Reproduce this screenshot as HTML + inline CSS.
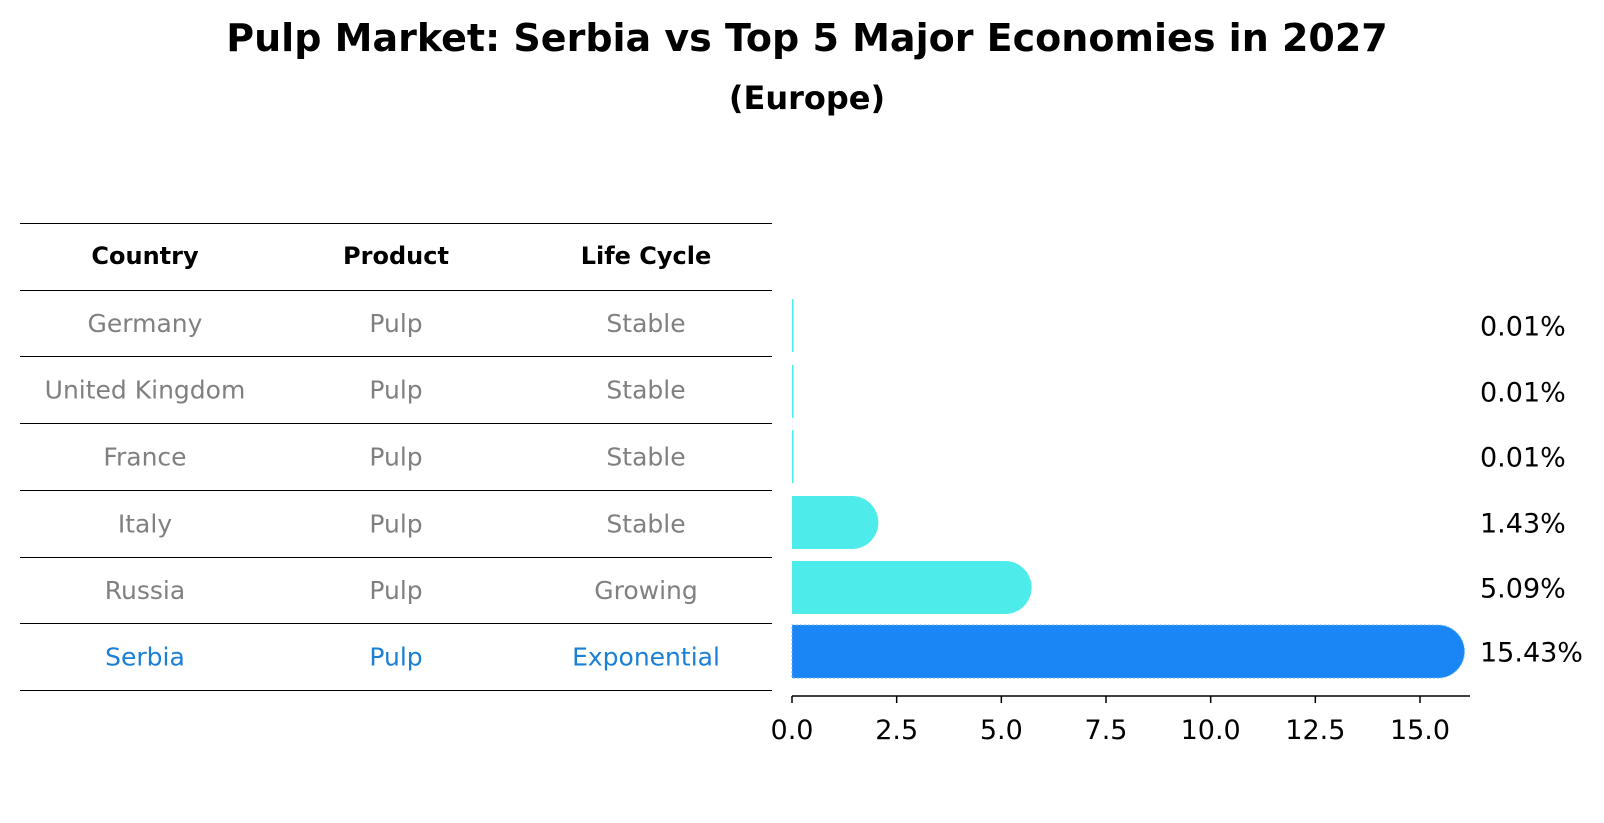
<!DOCTYPE html>
<html><head><meta charset="utf-8"><style>
body{margin:0;background:#fff;font-family:"DejaVu Sans","Liberation Sans",sans-serif;}
#wrap{position:relative;width:1604px;height:823px;overflow:hidden;}
</style></head><body>
<div id="wrap">
<svg id="svg" width="1604" height="823" xmlns="http://www.w3.org/2000/svg">
<text x="807" y="51" text-anchor="middle" font-size="38" font-weight="bold" font-family="DejaVu Sans, sans-serif">Pulp Market: Serbia vs Top 5 Major Economies in 2027</text>
<text x="807" y="109" text-anchor="middle" font-size="32" font-weight="bold" font-family="DejaVu Sans, sans-serif">(Europe)</text>
<g id="table"></g>
<g id="bars"></g>
</svg>
</div>
<script>
const countries=["Germany","United Kingdom","France","Italy","Russia","Serbia"];
const products=["Pulp","Pulp","Pulp","Pulp","Pulp","Pulp"];
const lifeCycles=["Stable","Stable","Stable","Stable","Growing","Exponential"];
const values=[0.01,0.01,0.01,1.43,5.09,15.43];
const valueLabels=["0.01%","0.01%","0.01%","1.43%","5.09%","15.43%"];
const xTicks=[0,2.5,5,7.5,10,12.5,15];
const tickLabels=["0.0","2.5","5.0","7.5","10.0","12.5","15.0"];

const NS="http://www.w3.org/2000/svg";
function mk(tag,attrs,parent){const e=document.createElementNS(NS,tag);for(const k in attrs)e.setAttribute(k,attrs[k]);parent.appendChild(e);return e;}
const F="DejaVu Sans, sans-serif";
// table
const tg=document.getElementById('table');
const lineYs=[223,290,356,423,490,557,623,690];
lineYs.forEach((y)=>{const l=mk('line',{x1:20,x2:772,y1:y+0.5,y2:y+0.5,stroke:'#000','stroke-width':1},tg);

});
const colX=[145,396,646];
const hdr=["Country","Product","Life Cycle"];
hdr.forEach((h,i)=>{const t=mk('text',{x:colX[i],y:264,'text-anchor':'middle','font-size':24,'font-weight':'bold','font-family':F},tg);t.textContent=h;

});
countries.forEach((c,r)=>{
 const y=(lineYs[r+1]+lineYs[r+2])/2+9;
 const col=r===countries.length-1?'#1a7fd6':'#808080';
 [c,products[r],lifeCycles[r]].forEach((v,i)=>{const t=mk('text',{x:colX[i],y:y,'text-anchor':'middle','font-size':25,fill:col,'font-family':F},tg);t.textContent=v;
 
 });
});
// bars
const bg=document.getElementById('bars');
const x0=792,x15=1420;
const xs=v=>x0+(x15-x0)*v/15;
const rowTop=[299,365,430,496,561,625];
const bh=53,rad=26.5;
values.forEach((v,i)=>{
 const y=rowTop[i];const w=xs(v)-x0;
 const last=i===values.length-1;
 const col=last?'#1a86f5':'#4deceb';
 let el;
 if(w<2){el=mk('rect',{x:x0,y:y,width:1.5,height:bh,fill:col},bg);}
 else{const xe=xs(v);
  const a={d:`M${x0},${y} H${xe} A${rad},${rad} 0 0 1 ${xe},${y+bh} H${x0} Z`,fill:col};
  if(last){a.stroke='#6fb6fa';a['stroke-width']=1;a['stroke-dasharray']='2,2';}
  el=mk('path',a,bg);}
 
 
 const t=mk('text',{x:1480,y:y+bh/2+10,'font-size':27,'font-family':F},bg);t.textContent=valueLabels[i];
 
 
});
const ax=mk('line',{x1:x0,x2:1470,y1:696,y2:696,stroke:'#000','stroke-width':1.5},bg);


xTicks.forEach((v,i)=>{const x=xs(v);
 const tk=mk('line',{x1:x,x2:x,y1:696,y2:703,stroke:'#000','stroke-width':1.5},bg);
 
 
 const t=mk('text',{x:x,y:739,'text-anchor':'middle','font-size':27,'font-family':F},bg);t.textContent=tickLabels[i];
 
 });
</script>
</body></html>
